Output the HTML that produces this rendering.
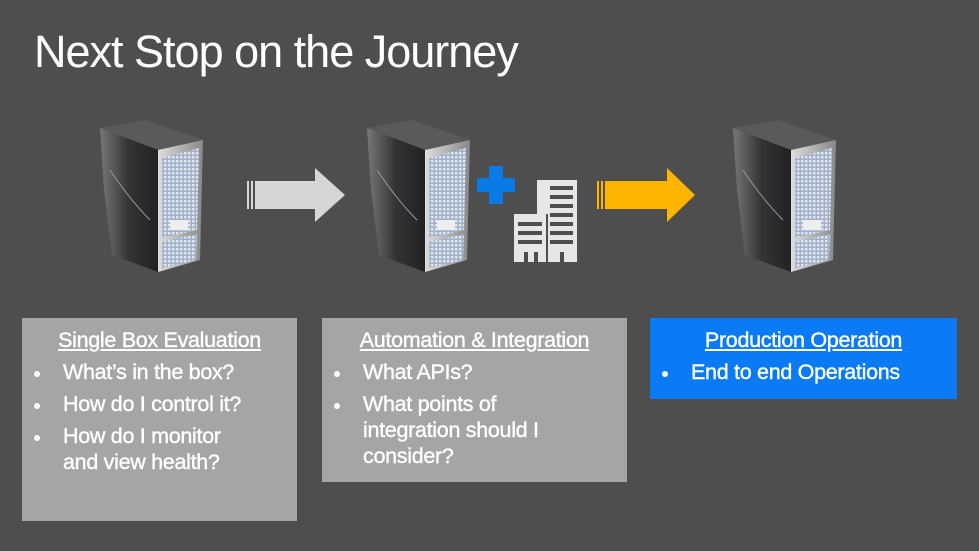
<!DOCTYPE html>
<html><head><style>
body{margin:0;width:979px;height:551px;background:#4e4e4e;overflow:hidden;position:relative;font-family:"Liberation Sans",sans-serif;color:#fff}
.t{position:absolute;left:34px;top:26px;font-size:45px;letter-spacing:-1px;color:#fff}
.box{position:absolute;font-size:21.5px;line-height:26px;letter-spacing:-0.3px;-webkit-text-stroke:0.4px #fff}
.box h{display:block;text-decoration:underline;text-align:center;margin-top:9px;margin-bottom:6px}
.box ul{margin:0;padding:0;list-style:none}
.box li{position:relative;padding-left:41px;margin-bottom:6px;white-space:nowrap}
.box li:before{content:"";position:absolute;left:12px;top:12px;width:6px;height:6px;border-radius:50%;background:#fff}
svg{position:absolute;left:0;top:0}
</style></head><body>
<div class="t">Next Stop on the Journey</div>
<svg width="979" height="551">
<defs>
<linearGradient id="side" x1="0" x2="1"><stop offset="0" stop-color="#777"/><stop offset=".5" stop-color="#333"/><stop offset="1" stop-color="#222"/></linearGradient>
<linearGradient id="front" x1="0" x2="1"><stop offset="0" stop-color="#ddd"/><stop offset="1" stop-color="#888"/></linearGradient>
<pattern id="grid" width="4" height="4" patternUnits="userSpaceOnUse"><rect width="4" height="4" fill="#9fb0c8"/><rect width="2.5" height="2.5" fill="#dfe6f0"/></pattern>
<g id="srv">
<polygon points="0,8 45,0 103,20 58,30" fill="#5a5a5a"/>
<polygon points="0,8 58,30 58,152 12,135 4,70" fill="url(#side)"/>
<polygon points="58,30 103,20 100,140 58,152" fill="url(#front)"/>
<polygon points="62,38 99,28 97,110 62,118" fill="url(#grid)"/>
<rect x="70" y="100" width="18" height="10" fill="#eee"/>
<polygon points="62,122 97,114 96,140 62,148" fill="url(#grid)"/>
<path d="M10,50 Q30,80 50,100" stroke="#999" fill="none" stroke-width="1"/>
</g>
</defs>
<use href="#srv" x="100" y="120"/>
<use href="#srv" x="367" y="120"/>
<use href="#srv" x="733" y="120"/>
<g fill="#d6d6d6"><rect x="247" y="181" width="2" height="28"/><rect x="251" y="181" width="2" height="28"/><polygon points="255,181 315,181 315,168 345,195 315,222 315,209 255,209"/></g>
<g fill="#ffb400"><rect x="597" y="181" width="2" height="28"/><rect x="601" y="181" width="2" height="28"/><polygon points="605,181 667,181 667,168 695,195 667,222 667,209 605,209"/></g>
<g fill="#0a7ae6"><rect x="477" y="178" width="38" height="14"/><rect x="489" y="166" width="14" height="38"/></g>
<g fill="#e6e6e6">
<rect x="537" y="180" width="40" height="82"/><rect x="514" y="214" width="32" height="48"/>
</g>
<g fill="#4e4e4e">
<rect x="550" y="186" width="23" height="4"/><rect x="550" y="195" width="23" height="4"/><rect x="550" y="204" width="23" height="4"/><rect x="550" y="213" width="23" height="4"/><rect x="550" y="222" width="23" height="4"/><rect x="550" y="231" width="23" height="4"/><rect x="550" y="240" width="23" height="4"/>
<rect x="518" y="222" width="24" height="4"/><rect x="518" y="231" width="24" height="4"/><rect x="518" y="240" width="24" height="4"/>
<rect x="524" y="252" width="4" height="10"/><rect x="534" y="252" width="4" height="10"/><rect x="560" y="252" width="4" height="10"/>
<rect x="546" y="214" width="2" height="48"/>
</g>
</svg>
<div class="box" style="left:22px;top:318px;width:275px;height:203px;background:#a5a5a5">
<h>Single Box Evaluation</h>
<ul><li>What’s in the box?</li><li>How do I control it?</li><li>How do I monitor<br>and view health?</li></ul></div>
<div class="box" style="left:322px;top:318px;width:305px;height:164px;background:#a5a5a5">
<h>Automation &amp; Integration</h>
<ul><li>What APIs?</li><li>What points of<br>integration should I<br>consider?</li></ul></div>
<div class="box" style="left:650px;top:318px;width:307px;height:81px;background:#0a7af5">
<h>Production Operation</h>
<ul><li>End to end Operations</li></ul></div>
</body></html>
